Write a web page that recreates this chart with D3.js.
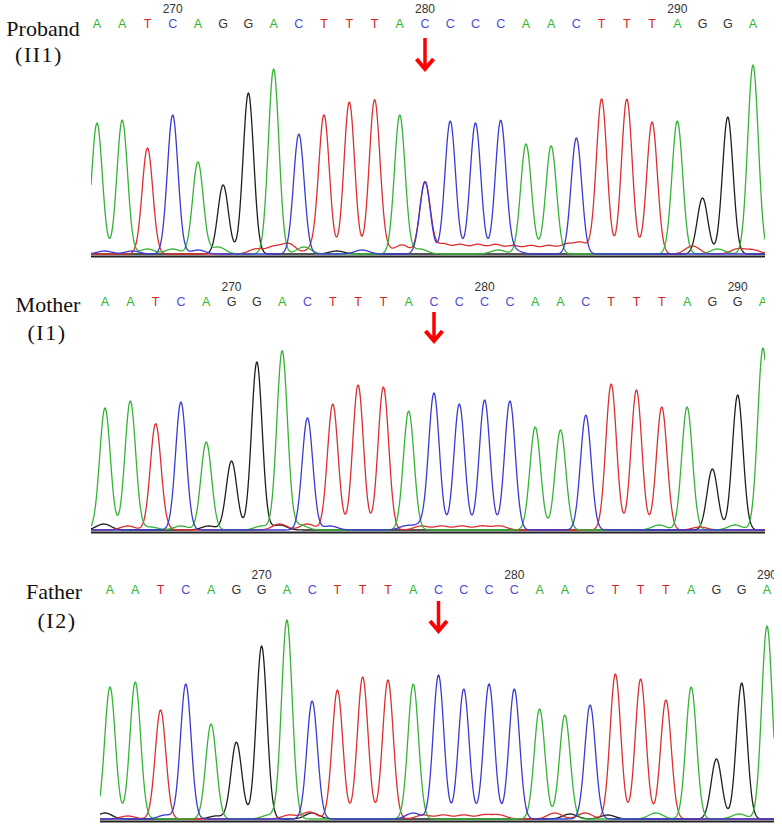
<!DOCTYPE html>
<html>
<head>
<meta charset="utf-8">
<script src="https://cdn.jsdelivr.net/npm/d3@7"></script>
<style>
  body { margin: 0; background: #fff; }
  svg { display: block; }
</style>
</head>
<body>
<svg width="782" height="826"></svg>
<script>
const svg = d3.select('svg');
svg.style('background-color', 'white');

// called bases, shared by the three reads
const bases = 'AATCAGGACTTTACCCCAACTTTAGGA'.split('');

// main peak intensity for each called base (arbitrary units)
const probandPeaks = [1310,1340,1060,1390,920,690,1610,1850,1200,1370,1520,1510,1390,720,1330,1310,1330,1070,1080,1160,1550,1550,1320,1330,560,1370,1890];
const motherPeaks  = [1220,1290,1040,1280,880,690,1680,1790,1120,1260,1450,1430,1190,1360,1260,1300,1290,1030,1000,1150,1460,1400,1230,1230,610,1350,1820];
const fatherPeaks  = [1320,1370,1090,1350,950,740,1730,1990,1180,1290,1420,1390,1350,1440,1300,1350,1300,1100,1040,1140,1450,1400,1190,1320,600,1360,1930];

// secondary peaks and background bumps: [base, position, intensity]
const probandMinor = [
  ['T',13,720],
  ['C',0.3,30],['C',1.4,30],['A',2,50],['A',3,50],['C',4,40],['A',4.8,70],
  ['T',6.3,50],['T',7,70],['T',7.6,100],['A',8.2,70],['T',8.6,60],['G',9.5,30],
  ['C',10.5,40],['T',11.3,60],['T',12.1,90],['A',12.8,50],
  ['T',13.7,100],['T',14.4,90],['T',15.1,90],['T',15.8,90],['T',16.5,80],['T',17.2,80],
  ['T',17.9,80],['T',18.6,90],['T',19.2,110],['C',16.5,40],['A',15.9,40],['A',17.2,40],
  ['T',23.6,80],['A',24.6,50],['T',25.4,50],['T',26,40]
];
const motherMinor = [
  ['G',-0.05,60],['T',0.9,40],['A',1.8,30],['T',2.2,30],['A',3,40],['G',4.1,40],
  ['A',6.2,40],['T',6.9,60],['G',6.9,50],['A',7.7,50],['T',8,60],['C',8.9,40],
  ['C',11.9,40],['C',12.5,50],['T',12.5,40],['T',13.3,40],['T',14.1,40],['T',14.9,40],
  ['T',15.6,40],['A',21.9,50],['T',23.5,30],['A',24.9,50]
];
const fatherMinor = [
  ['G',-0.2,60],['T',0.7,30],['C',2.2,40],['G',4.2,30],['G',5.1,30],['A',6.3,40],
  ['T',7.1,40],['T',7.9,70],['G',8,60],['C',12,60],['T',12.4,40],['T',13.2,40],
  ['T',14,40],['T',14.8,40],['T',15.4,40],['T',17.6,60],['G',18.2,50],['T',18.8,60],
  ['G',19.7,40],['A',21.6,60],['A',24.9,50]
];

// position labels: [base index, label]
const probandTicks = [[3,'270'],[13,'280'],[23,'290']];
const motherTicks  = [[5,'270'],[15,'280'],[25,'290']];
const fatherTicks  = [[6,'270'],[16,'280'],[26,'290']];

const mutationIndex = 13;

const colors = { A: '#35b335', C: '#3a3ad2', G: '#1e1e1e', T: '#dc2f2f' };
const letterColors = { A: '#2fb52f', C: '#4b4bd6', G: '#333333', T: '#d82424' };

const panels = [
  { name: 'Proband', sub: '(II1)', peaks: probandPeaks, minor: probandMinor, ticks: probandTicks,
    x0: 97, x1: 753, clipL: 91, clipR: 765, base: 256, letterY: 28, tickY: 13,
    nameX: 43, nameY: 36, subX: 39, subY: 62, arrowTop: 38, arrowTip: 70 },
  { name: 'Mother', sub: '(I1)', peaks: motherPeaks, minor: motherMinor, ticks: motherTicks,
    x0: 105, x1: 763, clipL: 91, clipR: 765, base: 532, letterY: 306, tickY: 291,
    nameX: 48, nameY: 312, subX: 47, subY: 340, arrowTop: 312, arrowTip: 342 },
  { name: 'Father', sub: '(I2)', peaks: fatherPeaks, minor: fatherMinor, ticks: fatherTicks,
    x0: 110, x1: 767, clipL: 100, clipR: 774, base: 821, letterY: 594, tickY: 579,
    nameX: 54, nameY: 599, subX: 57, subY: 628, arrowTop: 601, arrowTip: 632 }
];

const sigma = 0.21;
const minorSigma = 0.28;

const render = (p, i) => {
  const xScale = d3.scaleLinear().domain([0, bases.length - 1]).range([p.x0, p.x1]);
  const yScale = d3.scaleLinear().domain([0, 2000]).range([p.base - 2, p.base - 202]);

  const g = svg.append('g');

  g.append('clipPath').attr('id', 'clip' + i)
    .append('rect')
    .attr('x', p.clipL).attr('y', p.tickY - 14)
    .attr('width', p.clipR - p.clipL).attr('height', p.base - p.tickY + 20);

  const plot = g.append('g').attr('clip-path', `url(#clip${i})`);

  // one trace per dye
  const samples = d3.range(p.clipL, p.clipR + 0.5, 0.5).map(x => xScale.invert(x));
  ['G', 'T', 'A', 'C'].forEach(b => {
    const main = bases.map((c, k) => [c, k, p.peaks[k]]).filter(d => d[0] === b);
    const minor = p.minor.filter(d => d[0] === b);
    const signal = t =>
      d3.sum(main, d => d[2] * Math.exp(-((t - d[1]) ** 2) / (2 * sigma * sigma))) +
      d3.sum(minor, d => d[2] * Math.exp(-((t - d[1]) ** 2) / (2 * (d[2] > 300 ? sigma : minorSigma) ** 2)));
    const line = d3.line().x(t => xScale(t)).y(t => yScale(signal(t)));
    plot.append('path')
      .datum(samples)
      .attr('d', line)
      .attr('fill', 'none')
      .attr('stroke', colors[b])
      .attr('stroke-width', 1.3)
      .attr('stroke-linejoin', 'round');
  });

  // baseline
  plot.append('line')
    .attr('x1', p.clipL).attr('x2', p.clipR)
    .attr('y1', p.base + 0.5).attr('y2', p.base + 0.5)
    .attr('stroke', '#222').attr('stroke-width', 2);

  // base calls
  plot.selectAll('text.base').data(bases).enter().append('text')
    .attr('class', 'base')
    .attr('x', (d, k) => xScale(k))
    .attr('y', p.letterY)
    .attr('text-anchor', 'middle')
    .attr('font-family', 'Liberation Sans, Arial, sans-serif')
    .attr('font-size', 12.5)
    .attr('fill', d => letterColors[d])
    .text(d => d);

  // position numbers
  plot.selectAll('text.tick').data(p.ticks).enter().append('text')
    .attr('class', 'tick')
    .attr('x', d => xScale(d[0]))
    .attr('y', p.tickY)
    .attr('text-anchor', 'middle')
    .attr('font-family', 'Liberation Sans, Arial, sans-serif')
    .attr('font-size', 12)
    .attr('fill', '#333')
    .text(d => d[1]);

  // sample label
  g.append('text')
    .attr('x', p.nameX).attr('y', p.nameY)
    .attr('text-anchor', 'middle')
    .attr('font-family', 'Liberation Serif, Times New Roman, serif')
    .attr('font-size', 22)
    .attr('fill', '#111')
    .text(p.name);
  g.append('text')
    .attr('x', p.subX).attr('y', p.subY)
    .attr('text-anchor', 'middle')
    .attr('font-family', 'Liberation Serif, Times New Roman, serif')
    .attr('font-size', 22)
    .attr('letter-spacing', 1.5)
    .attr('fill', '#111')
    .text(p.sub);

  // mutation arrow
  const ax = xScale(mutationIndex);
  g.append('path')
    .attr('d', `M${ax},${p.arrowTop} L${ax},${p.arrowTip - 2}`)
    .attr('stroke', '#f00').attr('stroke-width', 3.5).attr('fill', 'none');
  g.append('path')
    .attr('d', `M${ax - 8.5},${p.arrowTip - 11} L${ax},${p.arrowTip - 1} L${ax + 8.5},${p.arrowTip - 11}`)
    .attr('stroke', '#f00').attr('stroke-width', 4).attr('fill', 'none')
    .attr('stroke-linejoin', 'miter');
};

panels.forEach(render);
</script>
</body>
</html>
